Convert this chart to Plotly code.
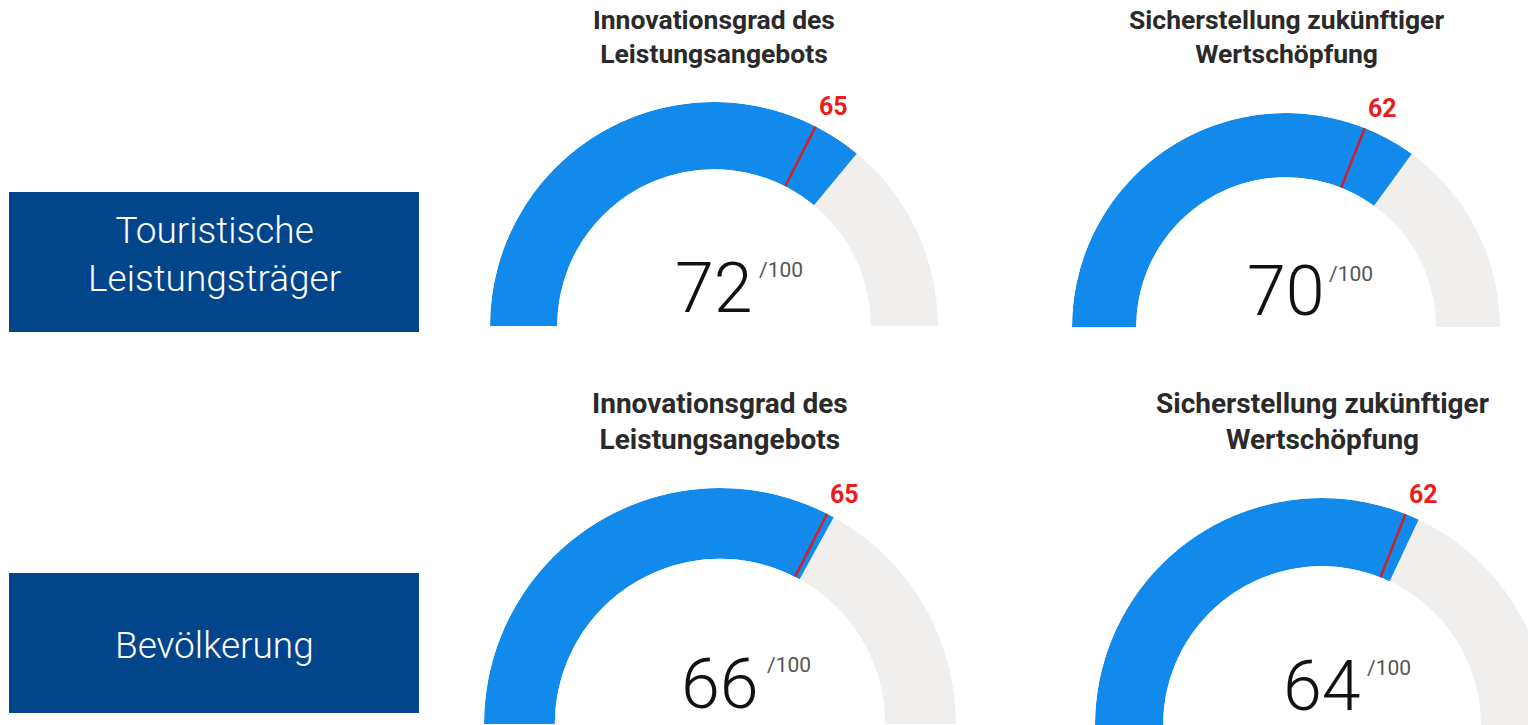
import math
import plotly.graph_objects as go

# ---------------- data ----------------
row_labels = ["Touristische<br>Leistungsträger", "Bevölkerung"]
gauge_titles = [
    "Innovationsgrad des<br>Leistungsangebots",
    "Sicherstellung zukünftiger<br>Wertschöpfung",
    "Innovationsgrad des<br>Leistungsangebots",
    "Sicherstellung zukünftiger<br>Wertschöpfung",
]
scores = [72, 70, 66, 64]
targets = [65, 62, 65, 62]
max_score = 100

# ---------------- layout geometry (pixels) ----------------
W, H = 1560, 730
# centre x, centre y (baseline), outer radius
gauges_geo = [
    (714, 326, 224),
    (1286, 327, 214),
    (720, 724, 236),
    (1322, 725, 227),
]
title_y = [36, 36, 421, 421]
title_size = [26.5, 26.5, 28, 28]
boxes = [(9, 192, 419, 332), (9, 573, 419, 713)]
box_text_dy = [-8, 2]
HOLE = 0.70

BLUE = "#118AEC"
GREY = "#F1EFEE"
RED_LINE = "#D0202A"
RED_TXT = "#EA1C1C"
NAVY = "#03458B"


def px(x):
    return x / W


def py(y):
    return 1 - y / H


fig = go.Figure()
layout_polars = {}
annotations = []
for i, ((cx, cy, R), s, t) in enumerate(zip(gauges_geo, scores, targets)):
    name = "polar" if i == 0 else f"polar{i+1}"
    k = 180.0 / max_score
    # background track
    fig.add_trace(go.Barpolar(subplot=name, r=[1], base=[0], theta=[max_score * k / 2],
                              width=[max_score * k], marker=dict(color=GREY, line=dict(width=0)),
                              hoverinfo="skip", showlegend=False))
    # value
    fig.add_trace(go.Barpolar(subplot=name, r=[1], base=[0], theta=[s * k / 2],
                              width=[s * k], marker=dict(color=BLUE, line=dict(width=0)),
                              hoverinfo="skip", showlegend=False))
    # target line
    fig.add_trace(go.Scatterpolar(subplot=name, r=[0, 1], theta=[t * k, t * k], mode="lines",
                                  line=dict(color=RED_LINE, width=2.5), hoverinfo="skip",
                                  showlegend=False))
    layout_polars[name] = dict(
        domain=dict(x=[px(cx - R), px(cx + R)], y=[py(cy), py(cy - R)]),
        sector=[0, 180], hole=HOLE, bgcolor="rgba(0,0,0,0)",
        radialaxis=dict(visible=False, range=[0, 1]),
        angularaxis=dict(visible=False, direction="clockwise", rotation=180),
    )
    # target label at the outer end of the target line
    ang = math.pi * (1 - t / max_score)
    ex, ey = cx + R * math.cos(ang), cy - R * math.sin(ang)
    annotations.append(dict(x=px(ex + 1), y=py(ey - 3), xref="paper", yref="paper",
                            text=str(t), showarrow=False, xanchor="left", yanchor="bottom",
                            font=dict(family="Roboto", size=25, color=RED_TXT, weight="bold")))

for i, ((cx, cy, R), s) in enumerate(zip(gauges_geo, scores)):
    annotations.append(dict(x=px(cx), y=py(title_y[i]), xref="paper", yref="paper",
                            text=gauge_titles[i], showarrow=False, xanchor="center", yanchor="middle",
                            font=dict(family="Roboto", size=title_size[i], color="#2A2A2A", weight="bold")))
    annotations.append(dict(x=px(cx), y=py(cy - 0.17 * R), xref="paper", yref="paper",
                            text=str(s), showarrow=False, xanchor="center", yanchor="middle",
                            font=dict(family="Roboto", size=70, color="#111111", weight=300)))
    annotations.append(dict(x=px(cx + 0.19 * R), y=py(cy - 0.25 * R), xref="paper", yref="paper",
                            text=f"/{max_score}", showarrow=False, xanchor="left", yanchor="middle",
                            font=dict(family="Roboto", size=21, color="#555555", weight=400)))

shapes = []
for (x0, y0, x1, y1), lab, dy in zip(boxes, row_labels, box_text_dy):
    shapes.append(dict(type="rect", xref="paper", yref="paper", x0=px(x0), x1=px(x1),
                       y0=py(y1), y1=py(y0), fillcolor=NAVY, line=dict(width=0), layer="below"))
    annotations.append(dict(x=px((x0 + x1) / 2), y=py((y0 + y1) / 2 + dy), xref="paper", yref="paper",
                            text=lab, showarrow=False, xanchor="center", yanchor="middle",
                            font=dict(family="Roboto", size=37, color="white", weight=300)))

fig.update_layout(width=W, height=H, margin=dict(l=0, r=0, t=0, b=0),
                  paper_bgcolor="white", plot_bgcolor="white",
                  annotations=annotations, shapes=shapes, showlegend=False, **layout_polars)

fig.write_html("out.html", config=dict(displayModeBar=False, staticPlot=True),
               post_script="document.body.style.margin='0';document.body.style.overflow='hidden';")
